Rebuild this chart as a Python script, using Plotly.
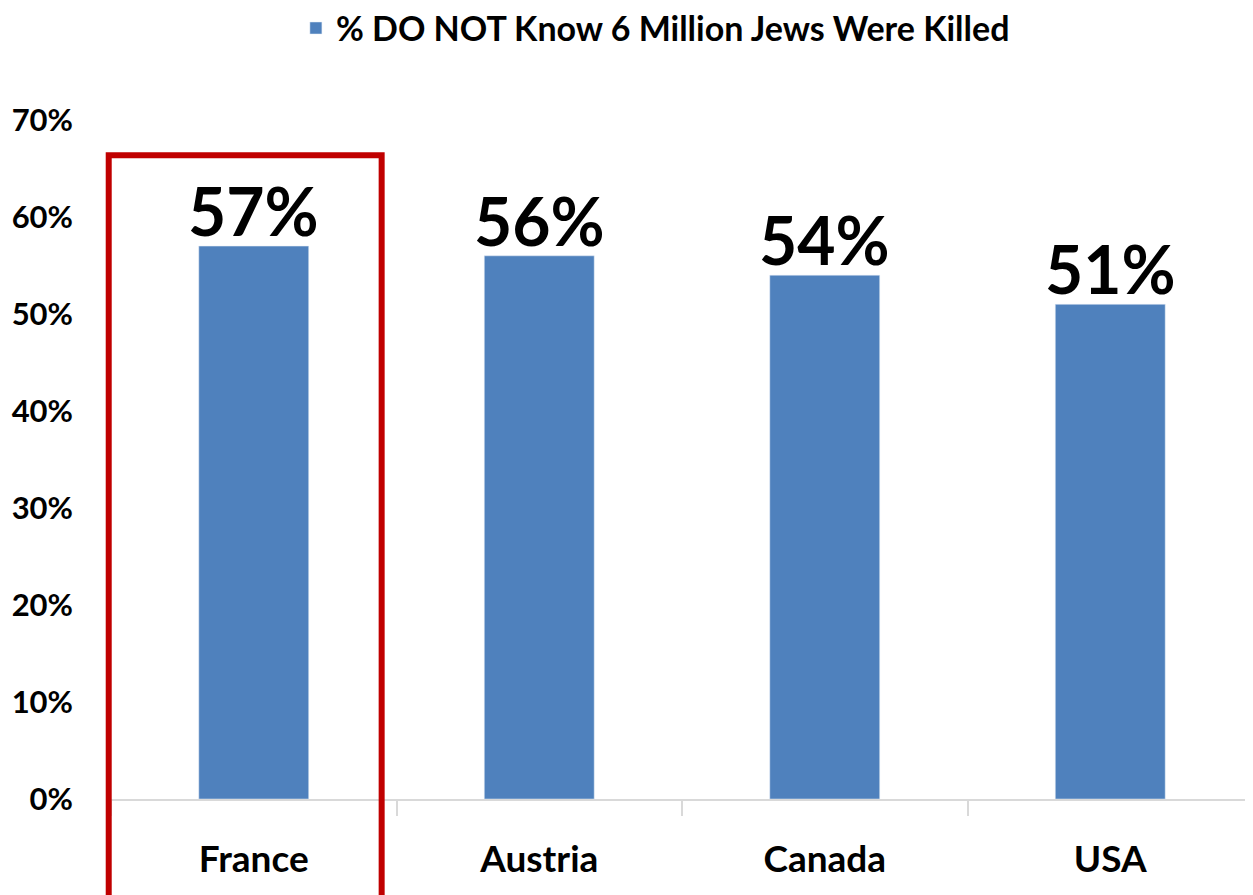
import plotly.graph_objects as go

countries = ["France", "Austria", "Canada", "USA"]
pct_not_know = [0.57, 0.56, 0.54, 0.51]
series_name = "% DO NOT Know 6 Million Jews Were Killed"
y_ticks = [0, 0.1, 0.2, 0.3, 0.4, 0.5, 0.6, 0.7]

FONT = "Lato"

fig = go.Figure(
    go.Bar(
        x=countries, y=pct_not_know, name=series_name,
        marker=dict(color="#4F81BD"), width=0.385,
        cliponaxis=False, showlegend=True,
    )
)

# value labels sit tight on top of each bar
for c, v in zip(countries, pct_not_know):
    fig.add_annotation(x=c, y=v, text=f"{v:.0%}", showarrow=False,
                       yanchor="bottom", yshift=-6,
                       font=dict(family=FONT, size=66, color="black", weight="bold"))

# red highlight box around France
fig.add_shape(type="rect", xref="paper", yref="paper",
              x0=-0.002, x1=0.237, y0=-0.16, y1=0.948,
              line=dict(color="#C00000", width=6))

# page has an 8px body margin, so size the figure to end at the window edge
fig.update_layout(
    width=1245, height=887,
    margin=dict(l=103, r=0, t=112, b=96),
    plot_bgcolor="white", paper_bgcolor="white",
    font=dict(family=FONT, color="black"),
    showlegend=True,
    legend=dict(orientation="h", xref="container", yref="container",
                x=0.52, xanchor="center", y=0.977, yanchor="middle",
                font=dict(family=FONT, size=34, color="black", weight="bold")),
    xaxis=dict(showline=True, linecolor="#D9D9D9", linewidth=2,
               ticks="outside", tickson="boundaries", ticklen=15,
               tickcolor="#D9D9D9", tickwidth=2, showgrid=False,
               tickfont=dict(family=FONT, size=37, color="black", weight="bold"),
               ticklabelstandoff=27),
    yaxis=dict(range=[0, 0.7], tickvals=y_ticks, tickformat=".0%",
               showgrid=False, zeroline=False, showline=False,
               tickfont=dict(family=FONT, size=31, color="black", weight="bold"),
               ticklabelstandoff=37),
)

fig.write_html("out.html")
